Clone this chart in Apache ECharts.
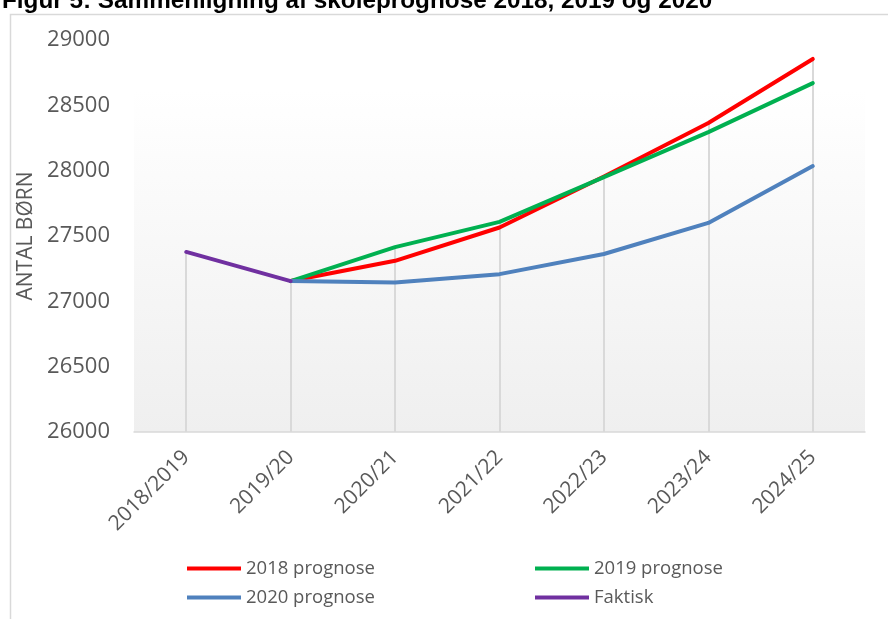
<!DOCTYPE html>
<html>
<head>
<meta charset="utf-8">
<script src="https://cdn.jsdelivr.net/npm/echarts@6/dist/echarts.min.js"></script>
<style>
  html, body { margin: 0; padding: 0; background: #fff; }
  #chart { width: 888px; height: 619px; }
</style>
</head>
<body>
<div id="chart"></div>
<script>
const categories = ["2018/2019", "2019/20", "2020/21", "2021/22", "2022/23", "2023/24", "2024/25"];
const prognose2018 = [null, 27155, 27310, 27565, 27955, 28365, 28855];
const prognose2019 = [null, 27155, 27415, 27608, 27950, 28295, 28670];
const prognose2020 = [null, 27155, 27145, 27208, 27362, 27600, 28035];
const faktisk = [27378, 27155, null, null, null, null, null];

const chart = echarts.init(document.getElementById("chart"));

// drop lines from highest value at each category down to the axis
const dropLines = categories.map((c, i) => {
  const vals = [prognose2018[i], prognose2019[i], prognose2020[i], faktisk[i]].filter((v) => v != null);
  return [{ coord: [c, Math.max(...vals)] }, { coord: [c, 26000] }];
});

const lineSeries = (name, data, color, extra) =>
  Object.assign(
    {
      name,
      type: "line",
      data,
      showSymbol: false,
      symbol: "none",
      lineStyle: { color, width: 4, cap: "round", join: "round" },
      itemStyle: { color },
      connectNulls: false,
      animation: false,
    },
    extra || {}
  );

const legendText = { fontFamily: "Open Sans", fontSize: 18.5, color: "#595959" };

chart.setOption({
  animation: false,
  backgroundColor: "#ffffff",
  title: {
    text: "Figur 5: Sammenligning af skoleprognose 2018, 2019 og 2020",
    left: -3,
    top: -16,
    textStyle: { fontFamily: "Liberation Sans", fontWeight: "bold", fontSize: 24.3, color: "#000" },
  },
  graphic: [
    {
      type: "rect",
      left: 8,
      top: 12,
      shape: { width: 900, height: 620 },
      style: { fill: "none", stroke: "#d9d9d9", lineWidth: 1.5 },
      z: -1,
    },
  ],
  grid: {
    left: 134,
    right: 23,
    top: 40,
    bottom: 187,
    show: true,
    borderWidth: 0,
    backgroundColor: new echarts.graphic.LinearGradient(0, 0, 0, 1, [
      { offset: 0, color: "#ffffff" },
      { offset: 0.13, color: "#ffffff" },
      { offset: 1, color: "#efefef" },
    ]),
  },
  legend: [
    {
      orient: "vertical",
      left: 187,
      top: 559,
      padding: 0,
      itemWidth: 54,
      itemHeight: 4,
      itemGap: 10,
      icon: "rect",
      selectedMode: false,
      data: ["2018 prognose", "2020 prognose"],
      textStyle: legendText,
    },
    {
      orient: "vertical",
      left: 535,
      top: 559,
      padding: 0,
      itemWidth: 54,
      itemHeight: 4,
      itemGap: 10,
      icon: "rect",
      selectedMode: false,
      data: ["2019 prognose", "Faktisk"],
      textStyle: legendText,
    },
  ],
  xAxis: {
    type: "category",
    data: categories,
    boundaryGap: true,
    axisLine: { lineStyle: { color: "#d9d9d9", width: 1.5 } },
    axisTick: { show: false },
    axisLabel: {
      rotate: 45,
      margin: 22,
      color: "#595959",
      fontFamily: "Open Sans",
      fontSize: 21,
    },
    splitLine: { show: false },
  },
  yAxis: {
    type: "value",
    min: 26000,
    max: 29000,
    interval: 500,
    name: "ANTAL BØRN",
    nameLocation: "middle",
    nameGap: 87,
    nameTextStyle: { color: "#595959", fontFamily: "Open Sans", fontSize: 21 },
    axisLine: { show: false },
    axisTick: { show: false },
    splitLine: { show: false },
    axisLabel: {
      margin: 24,
      color: "#595959",
      fontFamily: "Open Sans",
      fontSize: 22,
      formatter: (v) => String(v),
    },
  },
  series: [
    lineSeries("2018 prognose", prognose2018, "#ff0000", {
      markLine: {
        silent: true,
        symbol: "none",
        label: { show: false },
        lineStyle: { color: "#d9d9d9", width: 2, type: "solid" },
        data: dropLines,
        z: 1,
      },
    }),
    lineSeries("2019 prognose", prognose2019, "#00b050"),
    lineSeries("2020 prognose", prognose2020, "#4f81bd"),
    lineSeries("Faktisk", faktisk, "#7030a0"),
  ],
});
</script>
</body>
</html>
